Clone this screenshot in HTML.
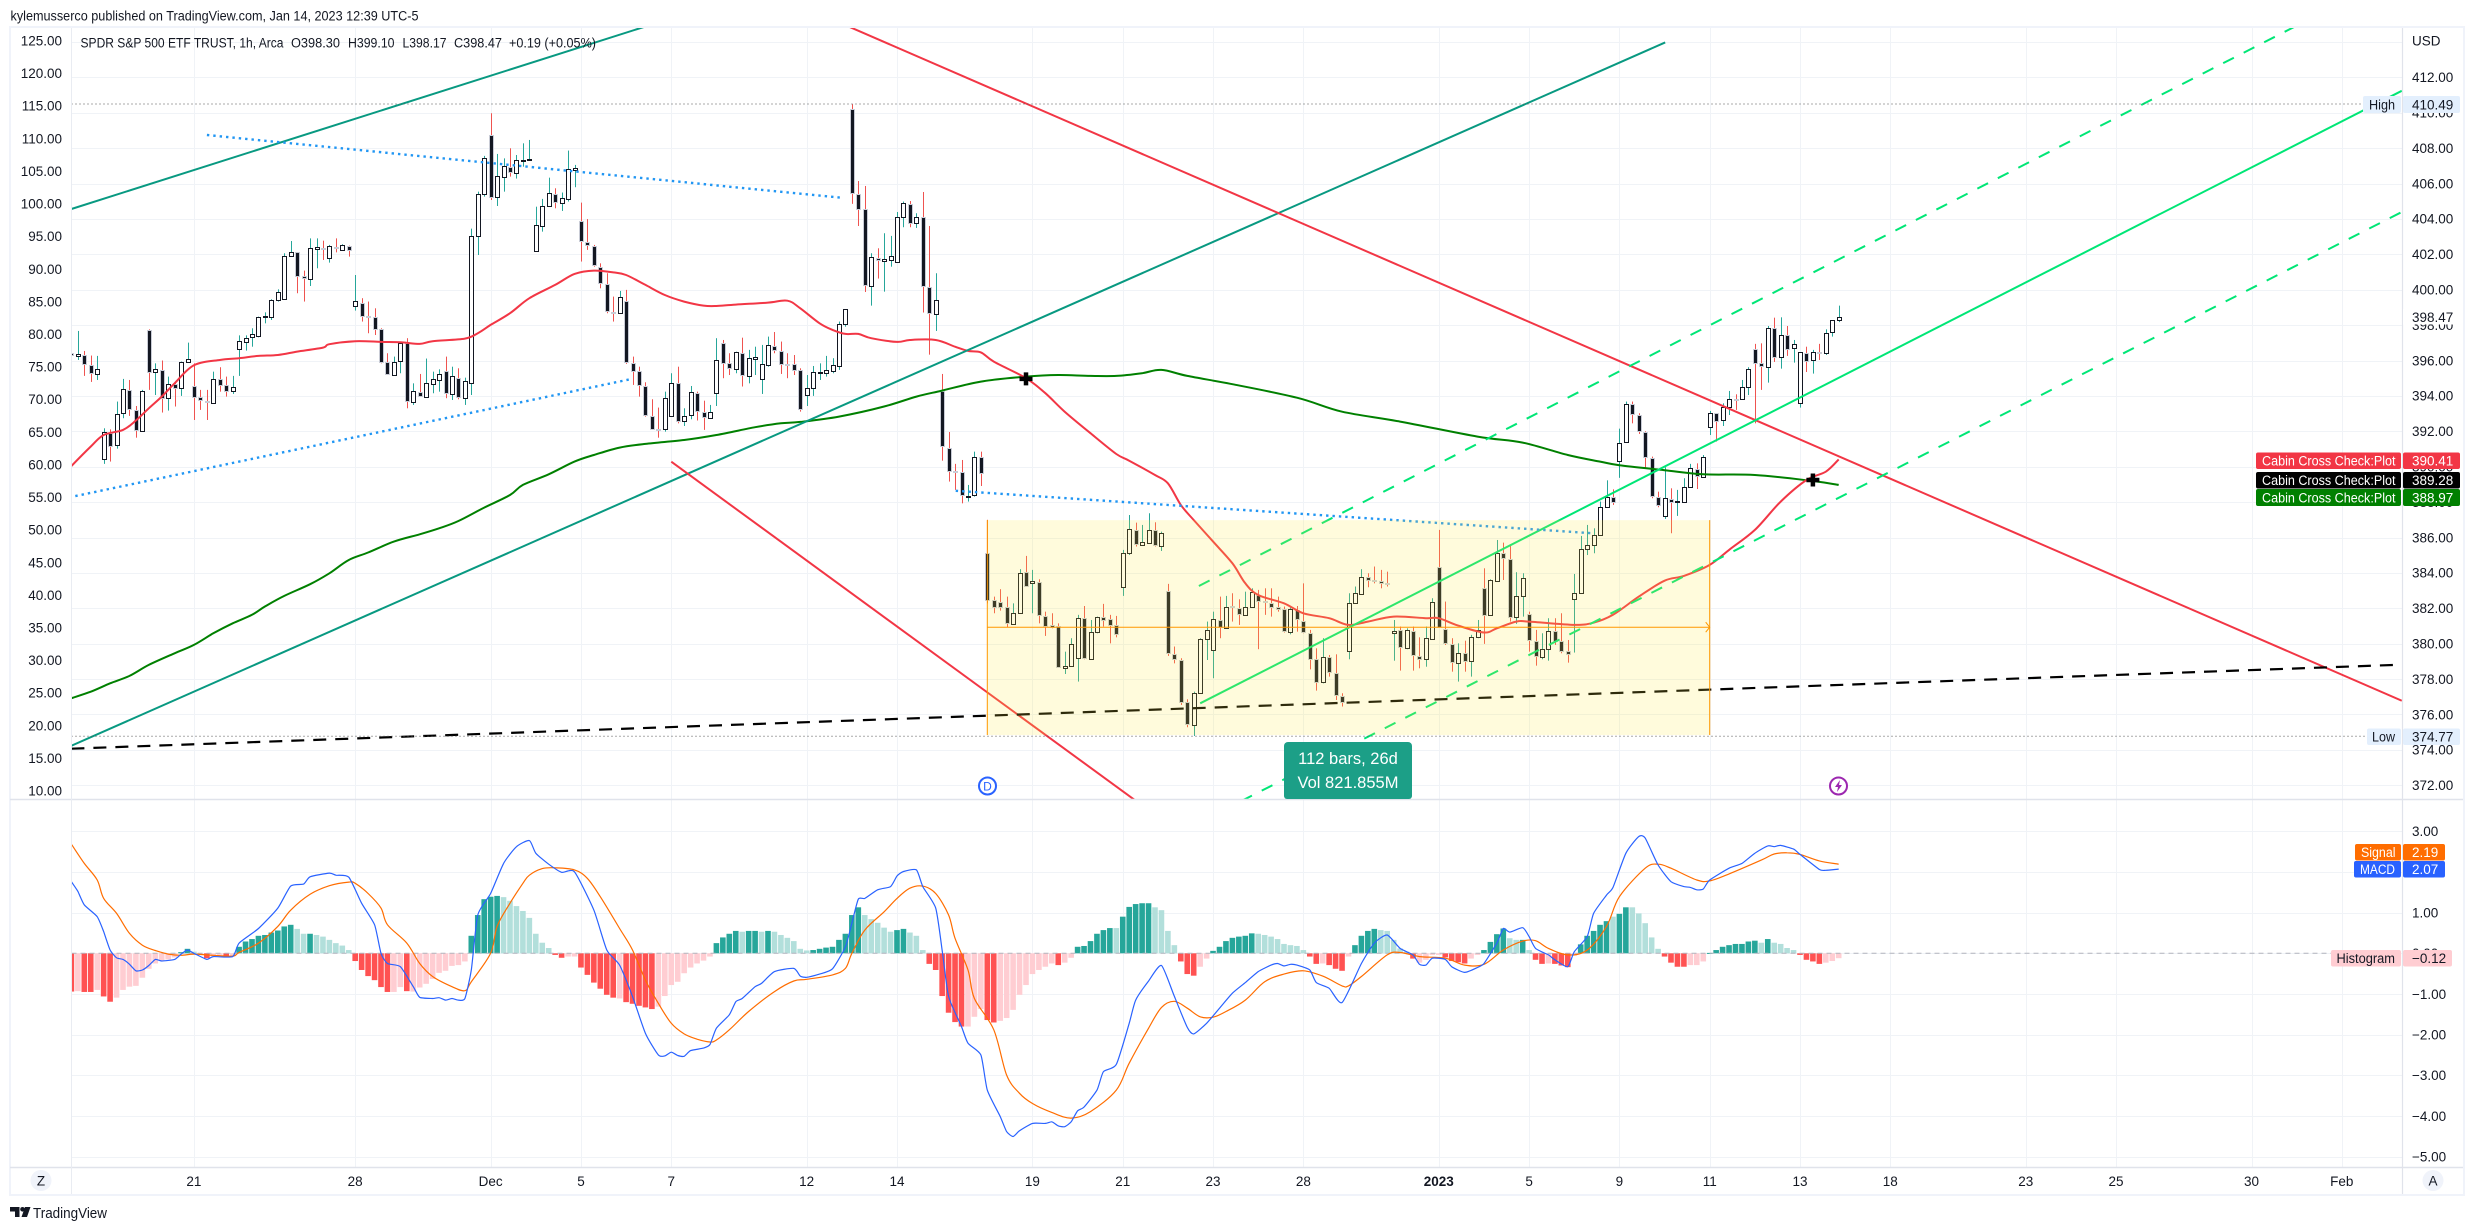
<!DOCTYPE html>
<html lang="en">
<head>
<meta charset="utf-8">
<title>SPDR S&amp;P 500 ETF TRUST chart</title>
<style>
html,body{margin:0;padding:0;background:#fff;width:2474px;height:1230px;overflow:hidden}
svg{display:block}
text{font-family:"Liberation Sans",sans-serif;font-size:13.5px;fill:#131722;white-space:pre}
</style>
</head>
<body>
<svg id="chart" xmlns="http://www.w3.org/2000/svg" width="2474" height="1230" viewBox="0 0 2474 1230">
<defs>
<clipPath id="main-clip"><rect x="71.5" y="28" width="2330.5" height="771"/></clipPath>
<clipPath id="macd-clip"><rect x="71.5" y="801" width="2330.5" height="366"/></clipPath>
</defs>
<rect x="0" y="0" width="2474" height="1230" fill="#fff"/>
<text x="10.5" y="20.5" textLength="408" lengthAdjust="spacingAndGlyphs">kylemusserco published on TradingView.com, Jan 14, 2023 12:39 UTC-5</text>
<rect x="10" y="27" width="2454" height="1168" fill="none" stroke="#f0f3fa" stroke-width="2"/>
<g id="grid"></g>
<g id="macd-layer" clip-path="url(#macd-clip)"></g>
<g id="candle-layer" clip-path="url(#main-clip)"></g>
<g id="ma-layer" clip-path="url(#main-clip)"></g>
<g id="draw-layer" clip-path="url(#main-clip)"></g>
<g id="range-layer" clip-path="url(#main-clip)"></g>
<g id="marker-layer" clip-path="url(#main-clip)"></g>
<line x1="10" y1="799.5" x2="2463" y2="799.5" stroke="#e0e3eb" stroke-width="1.5"/>
<line x1="10" y1="1167.5" x2="2463" y2="1167.5" stroke="#e0e3eb" stroke-width="1.5"/>
<line x1="71.5" y1="28" x2="71.5" y2="1194" stroke="#e9ecf2" stroke-width="1"/>
<line x1="2402.5" y1="28" x2="2402.5" y2="1194" stroke="#e0e3eb" stroke-width="1.2"/>
<g id="axis-layer"></g>
<text x="2412" y="45.5">USD</text>
<g>
<text x="80.5" y="47.5" textLength="203" lengthAdjust="spacingAndGlyphs">SPDR S&amp;P 500 ETF TRUST, 1h, Arca</text>
<text x="291" y="47.5" textLength="49" lengthAdjust="spacingAndGlyphs">O398.30</text>
<text x="348" y="47.5" textLength="46.5" lengthAdjust="spacingAndGlyphs">H399.10</text>
<text x="402.5" y="47.5" textLength="44" lengthAdjust="spacingAndGlyphs">L398.17</text>
<text x="454" y="47.5" textLength="48" lengthAdjust="spacingAndGlyphs">C398.47</text>
<text x="509" y="47.5" textLength="87" lengthAdjust="spacingAndGlyphs">+0.19 (+0.05%)</text>
</g>
<g>
<path d="M1284 746a4 4 0 0 1 4-4h120a4 4 0 0 1 4 4v50a3 3 0 0 1-3 3h-122a3 3 0 0 1-3-3z" fill="#1c9f87"/>
<text x="1348" y="764" text-anchor="middle" style="fill:#fff;font-size:16.5px">112 bars, 26d</text>
<text x="1348" y="788" text-anchor="middle" style="fill:#fff;font-size:16.5px">Vol 821.855M</text>
</g>
<g>
<rect x="2403" y="309" width="57" height="15.5" fill="#fff"/>
<text x="2412" y="322">398.47</text>
</g>
<g>
<rect x="2363" y="96" width="38" height="17" rx="2" fill="#e3effd"/>
<rect x="2403" y="96" width="57" height="17" rx="2" fill="#e3effd"/>
<text x="2369" y="109.5" textLength="26" lengthAdjust="spacingAndGlyphs">High</text>
<text x="2412" y="109.5">410.49</text>
</g>
<g>
<rect x="2367" y="728.5" width="34" height="16.5" rx="2" fill="#e3effd"/>
<rect x="2403" y="728.5" width="57" height="16.5" rx="2" fill="#e3effd"/>
<text x="2372" y="741.5" textLength="23" lengthAdjust="spacingAndGlyphs">Low</text>
<text x="2412" y="741.5">374.77</text>
</g>
<g>
<rect x="2256" y="452.5" width="145" height="16.5" rx="2" fill="#f23645"/>
<rect x="2403" y="452.5" width="57" height="16.5" rx="2" fill="#f23645"/>
<text x="2262" y="465.5" textLength="133.5" lengthAdjust="spacingAndGlyphs" style="fill:#fff">Cabin Cross Check:Plot</text>
<text x="2412" y="465.5" style="fill:#fff">390.41</text>
</g>
<g>
<rect x="2256" y="472" width="145" height="16.5" rx="2" fill="#000"/>
<rect x="2403" y="472" width="57" height="16.5" rx="2" fill="#000"/>
<text x="2262" y="485" textLength="133.5" lengthAdjust="spacingAndGlyphs" style="fill:#fff">Cabin Cross Check:Plot</text>
<text x="2412" y="485" style="fill:#fff">389.28</text>
</g>
<g>
<rect x="2256" y="489" width="145" height="17" rx="2" fill="#008000"/>
<rect x="2403" y="489" width="57" height="17" rx="2" fill="#008000"/>
<text x="2262" y="502.5" textLength="133.5" lengthAdjust="spacingAndGlyphs" style="fill:#fff">Cabin Cross Check:Plot</text>
<text x="2412" y="502.5" style="fill:#fff">388.97</text>
</g>
<g>
<rect x="2355" y="844" width="46" height="16.5" rx="2" fill="#ff6d00"/>
<rect x="2403" y="844" width="42" height="16.5" rx="2" fill="#ff6d00"/>
<text x="2361" y="857" textLength="34.5" lengthAdjust="spacingAndGlyphs" style="fill:#fff">Signal</text>
<text x="2412" y="857" style="fill:#fff">2.19</text>
</g>
<g>
<rect x="2354" y="861" width="47" height="16.5" rx="2" fill="#2962ff"/>
<rect x="2403" y="861" width="42" height="16.5" rx="2" fill="#2962ff"/>
<text x="2360" y="874" textLength="35" lengthAdjust="spacingAndGlyphs" style="fill:#fff">MACD</text>
<text x="2412" y="874" style="fill:#fff">2.07</text>
</g>
<g>
<rect x="2331" y="950" width="70" height="16.5" rx="2" fill="#ffcdd2"/>
<rect x="2403" y="950" width="49" height="16.5" rx="2" fill="#ffcdd2"/>
<text x="2336.5" y="963" textLength="58.5" lengthAdjust="spacingAndGlyphs">Histogram</text>
<text x="2412" y="963">−0.12</text>
</g>
<g>
<circle cx="987.5" cy="786" r="8.5" fill="#fff" stroke="#2962ff" stroke-width="2"/>
<text x="987.5" y="790.5" text-anchor="middle" style="fill:#2962ff;font-size:12px">D</text>
</g>
<g>
<circle cx="1838.5" cy="786" r="8.5" fill="#fff" stroke="#9c27b0" stroke-width="2"/>
<polygon points="1840,780 1835,787 1838,787 1837,792 1842,785 1839,785" fill="#9c27b0"/>
</g>
<g>
<circle cx="2433" cy="1180.5" r="10.5" fill="#f0f3fa"/>
<text x="2433" y="1185.5" text-anchor="middle">A</text>
</g>
<g>
<circle cx="41" cy="1180.5" r="10.5" fill="#f0f3fa"/>
<text x="41" y="1185.5" text-anchor="middle">Z</text>
</g>
<g>
<path d="M10 1207h9.5v10h-4.5v-5.5h-5z" fill="#131722"/>
<circle cx="22.5" cy="1209.3" r="2.3" fill="#131722"/>
<polygon points="25,1207 30.5,1207 27,1217 21.5,1217" fill="#131722"/>
<text x="33" y="1218" textLength="74" lengthAdjust="spacingAndGlyphs" style="font-size:14.5px">TradingView</text>
</g>
</svg>
<script>
/* ---------- candle data (USD) ---------- */
const opens=[396.41,396.28,396.33,395.77,395.26,390.42,391.89,391.21,393.02,394.34,393.21,392.04,397.73,395.37,395.47,393.87,394.68,394.43,395.90,394.58,393.92,393.72,393.62,394.94,394.62,394.30,396.63,397.07,397.31,397.41,398.44,398.48,399.40,399.50,401.89,402.11,400.76,400.63,402.32,402.36,401.81,402.42,402.26,402.49,399.06,399.27,398.50,398.46,397.76,395.92,395.18,395.99,396.97,393.68,394.22,393.96,394.69,394.92,395.43,394.13,395.01,393.87,394.75,403.06,405.39,408.76,405.26,406.39,406.94,406.61,407.27,407.33,402.21,403.62,404.71,405.41,404.92,405.15,406.77,403.90,402.70,402.49,401.29,400.34,398.74,398.67,399.38,395.88,395.43,394.58,392.89,392.13,392.13,392.89,394.71,392.61,392.91,394.17,393.07,392.75,394.15,396.97,395.84,395.54,396.45,395.15,396.11,394.94,395.73,396.82,396.56,395.82,395.81,395.47,394.05,394.43,395.30,395.32,395.43,395.71,398.05,410.19,405.43,404.54,400.23,401.79,401.64,401.70,401.59,404.09,404.86,403.75,404.09,400.17,398.65,394.30,391.08,389.76,389.72,388.33,388.39,390.57,385.15,382.47,382.38,382.10,381.12,381.72,384.07,383.45,383.51,381.57,381.04,381.00,378.65,378.76,379.21,381.44,379.16,380.64,381.49,381.38,381.04,383.23,385.11,386.43,385.60,385.71,386.41,385.54,383.00,379.42,379.08,376.69,375.43,377.20,380.25,379.63,381.34,380.91,382.12,382.04,381.63,382.06,382.75,382.40,382.28,382.10,381.94,380.68,381.91,381.30,380.63,379.12,377.82,379.27,378.37,377.07,379.61,382.28,382.83,383.75,383.60,383.54,383.41,380.63,380.78,379.78,380.74,379.33,379.12,380.27,384.36,380.85,379.99,378.93,379.50,379.00,380.36,383.17,381.63,383.56,385.15,384.81,381.49,382.72,381.68,380.17,379.27,379.70,380.74,380.17,379.61,382.55,382.89,385.33,385.58,386.13,387.73,388.29,390.35,391.40,393.53,392.91,391.96,390.50,388.31,387.24,388.20,388.01,388.03,388.87,389.89,389.44,392.23,393.02,392.62,393.39,393.83,393.81,394.53,396.63,395.88,395.65,397.82,396.18,397.42,396.69,393.58,396.45,396.01,396.46,396.41,397.59,398.30];
const highs=[396.60,397.67,396.54,396.28,396.26,392.17,392.11,393.68,394.96,394.90,393.43,394.34,397.76,395.84,396.00,395.09,394.81,395.94,397.01,395.84,394.34,394.34,395.37,395.62,395.09,395.13,397.42,397.42,397.82,398.48,398.72,399.46,400.02,402.06,402.75,402.11,401.08,402.90,402.90,402.77,402.53,402.90,402.57,402.49,400.83,399.52,399.33,398.95,397.82,396.41,396.22,397.07,397.26,394.71,395.24,396.11,395.37,395.50,396.22,395.65,395.56,395.03,403.45,405.54,407.56,409.97,407.67,407.42,407.99,407.61,408.27,408.46,404.69,405.13,406.33,405.73,405.49,407.86,407.05,404.92,403.99,402.53,401.49,400.93,399.61,399.93,399.99,396.22,395.65,394.77,393.81,393.34,394.24,395.28,395.65,393.30,394.56,394.24,393.73,393.49,397.26,397.16,396.41,396.50,397.29,396.60,396.78,396.88,397.35,397.61,397.07,396.41,396.31,395.56,395.18,395.69,395.84,396.26,396.13,398.20,398.89,410.48,406.14,405.86,402.06,402.34,403.19,403.04,404.39,404.98,405.01,404.32,405.52,403.60,400.93,395.24,391.96,390.16,390.38,388.97,390.85,390.85,387.00,382.66,383.08,382.66,382.28,384.21,384.96,384.17,383.64,381.81,381.72,381.15,379.55,380.31,381.63,382.13,381.34,381.53,382.25,381.63,381.57,385.30,387.27,386.84,386.71,387.37,386.86,386.33,383.38,379.84,379.18,376.86,377.29,380.31,381.25,381.81,382.66,382.70,382.85,382.51,382.94,383.13,383.04,383.13,383.13,382.66,382.10,382.10,382.13,383.41,380.78,379.74,380.31,379.36,379.40,377.20,382.85,383.23,384.21,383.98,384.36,384.17,384.07,381.34,380.97,380.87,380.97,380.36,380.97,382.57,386.43,382.38,380.31,380.02,380.17,380.50,381.34,384.26,383.64,385.86,385.71,385.58,384.04,383.98,381.81,380.78,380.59,381.44,381.44,381.72,380.21,383.94,386.09,386.71,386.52,388.03,389.23,388.72,392.15,393.68,393.68,393.02,392.00,390.57,388.59,389.97,388.78,388.69,389.35,390.16,390.19,390.66,393.15,393.02,393.58,394.28,394.09,394.90,395.62,396.94,396.97,397.95,398.42,398.44,397.95,397.16,396.46,396.78,396.60,396.94,397.76,398.27,399.10];
const lows=[396.20,396.03,395.13,394.79,394.90,390.16,390.29,391.02,392.74,392.87,391.64,391.98,394.34,394.05,393.06,393.17,393.40,394.00,395.88,392.64,393.21,392.64,393.58,394.24,393.96,394.11,395.13,396.56,396.78,397.31,398.10,398.29,399.33,399.42,401.87,399.80,399.33,400.21,401.21,401.68,401.53,402.11,402.21,401.87,398.82,398.20,397.54,397.44,395.84,395.18,395.13,395.28,393.30,393.49,393.96,393.96,394.15,394.24,393.87,393.77,393.81,393.49,394.05,401.96,405.26,405.07,404.73,405.54,406.39,406.28,406.95,407.29,402.15,403.28,404.69,404.60,404.45,404.98,405.79,401.59,402.25,401.30,400.08,398.67,398.20,398.63,395.81,394.62,393.96,392.83,392.08,391.64,391.98,392.89,392.45,392.30,392.68,392.61,392.08,392.74,393.43,395.00,395.18,395.28,394.53,394.71,395.18,394.11,395.65,396.41,395.24,395.00,395.18,393.11,393.43,394.00,394.90,395.09,395.28,395.47,397.91,404.85,403.60,399.87,399.10,400.63,399.89,401.30,401.59,403.53,403.53,403.49,398.71,396.33,397.67,390.34,389.16,388.69,387.93,388.03,388.31,388.91,382.28,381.72,381.87,380.93,381.12,381.68,383.23,381.72,381.15,380.44,380.87,378.63,378.29,378.70,377.86,379.12,379.08,380.59,380.97,380.02,380.36,382.70,385.01,385.49,385.58,385.67,385.49,385.24,379.31,378.89,376.54,375.28,374.79,377.16,379.08,378.05,380.31,380.87,381.25,381.06,381.63,382.04,379.69,381.63,381.53,381.81,380.63,380.53,380.68,380.59,378.55,377.35,377.76,378.14,376.82,376.45,379.12,382.25,382.79,383.19,383.41,383.13,383.23,379.04,378.48,379.69,378.48,378.61,378.70,380.21,380.93,379.93,378.42,377.86,378.42,378.14,380.31,379.99,381.59,383.51,383.60,381.25,381.12,381.53,379.55,378.76,379.12,379.04,379.93,379.46,378.93,379.50,382.85,385.01,385.11,386.13,387.69,387.84,389.37,391.34,392.45,391.85,389.89,388.22,387.71,387.05,386.24,387.22,387.97,388.84,388.74,389.40,391.79,391.42,392.30,392.92,393.21,393.81,394.05,392.45,394.34,394.75,395.92,395.54,396.26,395.88,393.34,395.35,395.26,396.03,396.31,397.35,398.17];
const closes=[396.33,396.37,395.81,395.30,395.50,391.95,391.19,392.96,394.37,393.24,392.08,394.26,395.37,395.50,393.87,394.66,394.43,395.90,396.07,393.92,393.79,393.64,394.94,394.62,394.30,394.53,397.09,397.29,397.48,398.44,398.50,399.40,399.85,401.89,402.11,400.76,400.66,402.34,402.40,402.32,402.45,402.34,402.51,402.23,399.35,398.50,398.46,397.76,395.94,395.22,395.90,396.97,393.72,394.26,394.00,394.71,394.94,395.22,394.15,395.11,393.94,394.83,403.02,405.39,407.42,405.24,406.41,406.97,406.65,407.31,407.33,407.37,403.64,404.71,405.45,404.94,405.17,406.80,406.86,402.75,402.51,401.38,400.36,398.82,398.67,399.57,395.90,395.43,394.62,392.92,392.11,392.10,393.87,394.71,392.61,392.89,394.20,393.13,392.79,393.11,396.03,395.84,395.56,396.46,395.16,396.13,396.18,395.81,396.90,396.60,395.81,395.73,395.47,393.24,394.43,395.33,395.37,395.47,395.73,398.05,398.89,405.45,404.54,400.25,401.83,401.68,401.72,401.93,404.09,404.88,403.77,404.09,400.21,398.67,399.40,391.17,389.76,389.72,388.40,388.37,390.57,389.67,382.47,382.10,382.10,381.16,381.72,384.02,383.28,383.55,381.63,381.00,380.97,378.67,378.76,379.97,381.44,379.21,380.64,381.49,381.34,381.06,380.53,385.11,386.46,385.64,385.73,386.41,385.58,386.28,379.46,379.14,376.71,375.45,377.20,380.25,380.76,381.38,380.95,382.10,382.08,381.68,382.06,382.90,382.44,382.36,382.06,381.94,380.72,381.96,381.38,380.65,379.12,377.82,379.27,378.40,377.11,376.69,382.28,382.85,383.75,383.60,383.56,383.43,383.38,380.74,379.84,380.78,379.37,379.12,380.31,382.38,380.97,380.02,378.95,379.50,379.00,380.36,380.78,381.63,383.60,385.15,384.83,381.49,382.72,383.70,380.21,379.31,379.72,380.74,380.17,379.61,379.42,382.89,385.33,385.56,386.14,387.71,388.31,388.03,391.34,393.53,392.96,392.00,390.55,388.33,387.84,388.22,388.01,388.05,388.87,389.91,389.48,390.57,393.02,392.57,393.39,393.81,393.79,394.53,395.50,395.88,395.69,397.82,396.18,397.42,396.63,396.92,396.46,395.96,396.46,396.43,397.54,398.27,398.47];

/* ---------- moving averages (bar index + USD) ---------- */
const redMaBars=[0,3,5,8,10,12,14,16,19,23,26,29,32,35,39,40,44,48,51,54,56,61,63,65,68,71,75,78,81,84,86,89,92,95,98,100,103,108,111,113,116,118,120,122,124,128,130,134,137,139,141,143,148,151,154,158,162,164,168,170,172,174,177,180,182,184,188,191,195,198,201,205,210,212,215,219,221,224,226,233,236,239,243,247,250,254,257,261,265,269,272,274];
const redMaValues=[390.04,391.14,391.79,392.08,392.61,393.30,393.96,394.71,395.73,396.03,396.13,396.26,396.31,396.50,396.73,396.92,397.09,397.05,397.03,396.94,397.09,397.24,397.54,398.01,398.67,399.52,400.27,400.89,401.08,400.98,400.83,400.27,399.70,399.33,399.10,399.08,399.16,399.27,399.38,398.95,398.10,397.73,397.50,397.50,397.26,397.05,397.16,397.16,396.78,396.54,396.46,395.94,395.00,394.15,393.11,391.89,390.72,390.34,389.53,389.06,387.84,386.99,385.77,384.54,383.41,382.75,382.28,381.72,381.44,381.06,381.25,381.53,381.44,381.44,381.02,380.63,380.87,381.25,381.25,381.06,381.19,381.63,382.66,383.56,383.83,384.45,385.30,386.43,388.03,389.25,389.72,390.41];
const greenMaBars=[0,3,6,9,12,16,19,22,25,28,30,33,37,40,43,46,50,54,57,60,64,68,70,74,78,81,85,89,95,100,106,110,113,119,126,131,135,141,148,153,158,162,166,169,173,180,190,197,206,218,225,232,237,240,247,253,261,270,274];
const greenMaValues=[376.92,377.29,377.76,378.18,378.80,379.46,379.93,380.59,381.15,381.63,382.10,382.70,383.36,383.98,384.73,385.15,385.77,386.18,386.52,386.93,387.69,388.40,388.97,389.57,390.29,390.66,391.08,391.29,391.51,391.79,392.23,392.45,392.53,392.83,393.40,393.96,394.30,394.81,395.09,395.18,395.13,395.13,395.28,395.47,395.13,394.66,393.90,393.11,392.55,391.70,391.36,390.66,390.29,390.08,389.80,389.57,389.53,389.19,388.97];

/* ---------- MACD pane ---------- */
const macdBars=[0,1,2,4,5,6,7,8,9,10,11,12,13,14,16,17,18,19,21,22,25,26,29,32,34,36,37,40,41,43,45,47,48,49,51,53,54,56,57,58,59,60,61,62,63,65,67,69,71,72,74,76,78,81,83,85,87,89,91,92,93,94,95,96,98,99,100,102,103,104,106,107,109,112,113,114,116,118,120,121,122,123,125,127,128,129,131,132,134,135,136,138,139,141,142,144,145,146,147,149,151,152,153,154,155,156,157,159,160,162,164,165,167,169,171,173,174,176,178,180,182,184,186,187,188,189,190,192,193,195,197,200,202,204,206,208,209,210,211,213,214,216,218,219,221,222,223,225,226,227,229,230,232,233,235,236,238,239,241,243,244,246,248,250,251,252,253,254,257,259,261,263,264,265,267,268,271,272,274];
const macdValues=[1.76,1.52,1.19,0.90,0.53,0.08,-0.11,-0.15,-0.27,-0.43,-0.41,-0.30,-0.15,-0.19,-0.15,-0.02,0.08,0.00,-0.15,-0.08,-0.08,0.25,0.61,1.11,1.65,1.70,1.88,1.97,1.92,1.87,1.23,0.70,0.00,-0.25,-0.33,-0.82,-1.08,-1.11,-1.09,-1.15,-1.11,-1.15,-1.11,-0.41,0.94,1.47,2.21,2.62,2.77,2.46,2.19,1.99,2.00,1.06,0.08,-0.29,-1.06,-1.97,-2.50,-2.52,-2.43,-2.51,-2.53,-2.39,-2.33,-2.24,-1.84,-1.51,-1.19,-1.11,-0.82,-0.74,-0.45,-0.37,-0.56,-0.59,-0.51,-0.38,0.16,0.74,1.33,1.35,1.56,1.64,1.90,2.01,2.05,1.64,1.11,0.08,-1.06,-1.80,-2.21,-2.50,-3.36,-4.01,-4.38,-4.50,-4.36,-4.18,-4.18,-4.14,-4.24,-4.26,-4.14,-3.87,-3.78,-3.36,-2.91,-2.73,-1.72,-1.15,-0.68,-0.30,-1.06,-1.82,-1.98,-1.72,-1.35,-0.98,-0.72,-0.45,-0.29,-0.25,-0.31,-0.27,-0.29,-0.41,-0.72,-0.86,-1.21,-0.25,0.25,0.45,0.12,-0.04,-0.27,-0.29,-0.12,-0.15,-0.33,-0.47,-0.35,-0.25,0.25,0.61,0.52,0.63,0.41,0.12,-0.04,-0.16,-0.33,0.04,0.41,0.98,1.43,1.62,2.46,2.87,2.83,2.17,1.76,1.64,1.62,1.56,1.58,1.80,2.09,2.21,2.46,2.64,2.62,2.65,2.56,2.43,2.06,2.04,2.07];
const signalBars=[0,2,4,5,7,9,11,13,15,17,19,22,25,26,29,32,34,37,40,43,44,46,48,49,52,54,56,59,61,62,65,66,68,70,71,73,75,78,80,82,85,87,89,91,93,95,97,99,100,102,105,109,112,114,118,120,121,123,126,128,130,132,134,136,137,139,140,143,145,147,149,152,155,158,162,164,167,169,171,173,175,177,179,182,185,188,191,194,197,198,200,204,206,209,213,216,219,222,225,227,229,232,235,238,240,244,246,248,252,254,257,262,264,266,268,271,274];
const signalValues=[2.68,2.21,1.80,1.35,0.98,0.49,0.20,0.07,-0.02,-0.05,-0.02,-0.05,-0.07,0.02,0.25,0.66,1.06,1.45,1.66,1.75,1.72,1.47,1.11,0.70,0.25,-0.25,-0.57,-0.82,-0.92,-0.70,0.00,0.66,1.23,1.72,1.92,2.08,2.10,2.05,1.84,1.39,0.61,0.08,-0.66,-1.23,-1.72,-1.98,-2.11,-2.18,-2.13,-1.88,-1.43,-0.94,-0.68,-0.64,-0.53,-0.37,0.00,0.57,1.02,1.35,1.60,1.65,1.47,0.94,0.37,-0.41,-1.11,-1.88,-2.99,-3.44,-3.69,-3.91,-4.05,-3.89,-3.36,-2.70,-1.84,-1.33,-1.18,-1.35,-1.56,-1.57,-1.43,-1.15,-0.70,-0.51,-0.43,-0.56,-0.80,-0.80,-0.57,-0.04,0.02,-0.08,-0.12,-0.29,-0.27,0.08,0.30,0.31,0.12,-0.04,0.08,0.66,1.39,2.09,2.19,2.09,1.80,1.78,1.95,2.29,2.44,2.47,2.43,2.27,2.19];
const histValues=[-0.94,-0.93,-0.95,-0.95,-0.90,-1.06,-1.19,-1.09,-0.90,-0.82,-0.80,-0.60,-0.38,-0.25,-0.19,-0.15,-0.10,0.03,0.11,0.04,-0.02,-0.12,-0.07,-0.04,-0.07,-0.08,0.16,0.29,0.35,0.43,0.45,0.51,0.56,0.66,0.70,0.60,0.48,0.48,0.45,0.41,0.33,0.25,0.19,0.08,-0.19,-0.41,-0.56,-0.66,-0.83,-0.95,-0.95,-0.83,-0.93,-0.94,-0.84,-0.75,-0.63,-0.48,-0.43,-0.31,-0.29,-0.20,0.43,0.94,1.33,1.39,1.41,1.38,1.29,1.16,1.04,0.87,0.48,0.26,0.13,-0.04,-0.11,-0.08,-0.08,-0.35,-0.53,-0.72,-0.87,-1.02,-1.09,-1.11,-1.20,-1.24,-1.29,-1.33,-1.37,-1.31,-1.05,-0.78,-0.70,-0.49,-0.35,-0.25,-0.18,-0.08,0.25,0.39,0.48,0.55,0.53,0.55,0.55,0.53,0.55,0.53,0.45,0.38,0.30,0.11,0.07,0.08,0.11,0.14,0.16,0.33,0.48,0.94,1.13,0.94,0.84,0.75,0.63,0.53,0.57,0.60,0.51,0.43,0.08,-0.26,-0.41,-1.05,-1.46,-1.69,-1.80,-1.80,-1.56,-1.37,-1.64,-1.70,-1.66,-1.59,-1.39,-1.02,-0.78,-0.51,-0.41,-0.33,-0.25,-0.29,-0.23,-0.11,0.16,0.18,0.30,0.48,0.57,0.62,0.62,0.90,1.14,1.21,1.23,1.23,1.13,1.06,0.55,0.20,-0.20,-0.51,-0.55,-0.33,-0.13,0.06,0.16,0.30,0.38,0.41,0.43,0.49,0.48,0.45,0.41,0.35,0.23,0.20,0.18,0.08,-0.08,-0.26,-0.25,-0.29,-0.38,-0.43,-0.08,0.20,0.43,0.55,0.60,0.57,0.55,0.33,0.12,0.04,-0.13,-0.23,-0.16,-0.04,-0.04,-0.10,-0.19,-0.22,-0.25,-0.13,-0.04,0.08,0.28,0.47,0.61,0.37,0.33,0.33,0.08,-0.16,-0.26,-0.25,-0.26,-0.30,-0.34,-0.06,0.22,0.43,0.55,0.70,0.79,0.90,0.97,1.13,1.13,0.98,0.74,0.39,0.11,-0.08,-0.23,-0.33,-0.33,-0.29,-0.29,-0.20,0.01,0.08,0.16,0.20,0.23,0.23,0.29,0.31,0.26,0.35,0.26,0.23,0.13,0.08,-0.04,-0.16,-0.20,-0.26,-0.23,-0.19,-0.12];
const histShades="RPRRPRRPPPPPPPPPPTTLPRPPRPTTTTTTTTTLLTLLLLLLRRRRRRPPRPPPPPPPPPTTTTTLLLLLLLLRRPPRRRRRRPRRRRRPPPPPPPPPTTTTLTTLTLLLLLLTTTTTTTTLLLLLTTLLLRRRRRRPPPRRPPPPPPPPPRPPTTTTTTLTTTTTLLLLRRRPPTTTTTTTLLLLLLLLRRPRRRPTTTTLLLLLRPPPPRRRRPPTTTTLLTLRRPRRRPTTTTTLTTLLLLLRRRRPPPTTTTTTTTLTLLLLRRRRPPP";

/* ---------- axis ticks ---------- */
const priceTicks=[412,410,408,406,404,402,400,398,396,394,392,390,388,386,384,382,380,378,376,374,372];
const priceTickLabels=["412.00","410.00","408.00","406.00","404.00","402.00","400.00","398.00","396.00","394.00","392.00","390.00","388.00","386.00","384.00","382.00","380.00","378.00","376.00","374.00","372.00"];
const topGridPrice=[414];
const leftTicks=[125,120,115,110,105,100,95,90,85,80,75,70,65,60,55,50,45,40,35,30,25,20,15,10];
const leftTickLabels=["125.00","120.00","115.00","110.00","105.00","100.00","95.00","90.00","85.00","80.00","75.00","70.00","65.00","60.00","55.00","50.00","45.00","40.00","35.00","30.00","25.00","20.00","15.00","10.00"];
const macdTicks=[3,2,1,0,-1,-2,-3,-4,-5];
const macdTickLabels=["3.00","2.00","1.00","0.00","−1.00","−2.00","−3.00","−4.00","−5.00"];
const timeBars=[19,44,65,79,93,114,128,149,163,177,191,212,226,240,254,268,282,303,317,338,352];
const timeLabels=["21","28","Dec","5","7","12","14","19","21","23","28","2023","5","9","11","13","18","23","25","30","Feb"];

/* ---------- drawings in bar / USD coordinates ---------- */
const tealUpperBars=[0,88.9];
const tealUpperPrices=[404.56,414.86];
const tealLowerBars=[0,247.1];
const tealLowerPrices=[374.24,413.97];
const redUpperBars=[120.56,361.3];
const redUpperPrices=[414.86,376.78];
const redLowerBars=[93,167.2];
const redLowerPrices=[390.28,370.55];
const channelMidBars=[175,361.3];
const channelMidPrices=[376.63,411.24];
const channelTopBars=[174.8,344.9];
const channelTopPrices=[383.26,414.9];
const channelBottomBars=[175,361.3];
const channelBottomPrices=[369.93,404.39];
const supportBars=[0,360.2];
const supportPrices=[374.07,378.8];
const dottedABars=[21,119.3];
const dottedAPrices=[408.74,405.2];
const dottedBBars=[0.6,86.6];
const dottedBPrices=[388.34,394.94];
const dottedCBars=[137.1,235.9];
const dottedCPrices=[388.64,386.24];
const rangeBars=[142,254];
const rangePrices=[386.98,374.84];
const rangeMidPrice=[380.93];
const highPrice=[410.49];
const lowPrice=[374.77];
const markerBars=[148,270];
const markerPrices=[394.96,389.25];

/* ---------- axis functions ---------- */
function xBar(b){return 71.4+b*6.45;}
function yPrice(p){return 77.3+(412-p)*17.7;}
function yLeft(v){return 40.7+(125-v)*6.522;}
function yMacd(v){return 953.3-v*40.7;}

const NS="http://www.w3.org/2000/svg";
function mk(parent,tag,attrs,text){
  const el=document.createElementNS(NS,tag);
  for(const k in attrs){el.setAttribute(k,attrs[k]);}
  if(text!==undefined){el.textContent=text;}
  parent.appendChild(el);
  return el;
}
const grid=document.getElementById('grid');
const axisLayer=document.getElementById('axis-layer');
const macdLayer=document.getElementById('macd-layer');
const candleLayer=document.getElementById('candle-layer');
const maLayer=document.getElementById('ma-layer');
const drawLayer=document.getElementById('draw-layer');
const rangeLayer=document.getElementById('range-layer');
const markerLayer=document.getElementById('marker-layer');
const gridColor='#f0f3f7';

/* gridlines */
topGridPrice.concat(priceTicks).forEach(function(p){
  const y=Math.round(yPrice(p))+0.5;
  const l=mk(grid,'line',{x1:71.5,x2:2402,y1:y,y2:y,stroke:gridColor,'stroke-width':1});
  
  
});
macdTicks.forEach(function(v){
  const y=Math.round(yMacd(v))+0.5;
  const l=mk(grid,'line',{x1:71.5,x2:2402,y1:y,y2:y,stroke:gridColor,'stroke-width':1});
  
  
});
timeBars.forEach(function(b,i){
  const x=Math.round(xBar(b))+0.5;
  const l=mk(grid,'line',{x1:x,x2:x,y1:28,y2:1167,stroke:gridColor,'stroke-width':1});
  
  
  const t=mk(axisLayer,'text',{x:xBar(b),y:1186,'text-anchor':'middle'},timeLabels[i]);
  
  
  if(timeLabels[i]==='2023'){t.style.fontWeight='bold';}
});

/* axis labels */
priceTicks.forEach(function(p,i){
  const t=mk(axisLayer,'text',{x:2412,y:yPrice(p)+4.8},priceTickLabels[i]);
  
  
});
leftTicks.forEach(function(v,i){
  const t=mk(axisLayer,'text',{x:62,y:yLeft(v)+4.8,'text-anchor':'end'},leftTickLabels[i]);
  
  
});
macdTicks.forEach(function(v,i){
  const t=mk(axisLayer,'text',{x:2412,y:yMacd(v)+4.8},macdTickLabels[i]);
  
  
});

/* histogram */
const shadeColors={R:'#ff5252',P:'#ffcdd2',T:'#26a69a',L:'#b2dfdb'};
histValues.forEach(function(v,i){
  const y0=yMacd(0),y1=yMacd(v);
  const r=mk(macdLayer,'rect',{x:xBar(i)-2.8,y:Math.min(y0,y1),width:5.6,height:Math.max(1,Math.abs(y1-y0)),fill:shadeColors[histShades[i]]});
  
  
});
const zeroLine=mk(macdLayer,'line',{x1:71.5,x2:2331,y1:yMacd(0),y2:yMacd(0),stroke:'#b2b5be','stroke-width':1,'stroke-dasharray':'5 4'});



function linePath(bars,vals,yFn){
  return bars.map(function(b,i){return (i?'L':'M')+xBar(b).toFixed(1)+' '+yFn(vals[i]).toFixed(1);}).join('');
}
/* curve through every read point (Catmull-Rom), for the smooth indicator lines */
function curvePath(bars,vals,yFn,k){
  const pts=bars.map(function(b,i){return [xBar(b),yFn(vals[i])];});
  let d='M'+pts[0][0].toFixed(1)+' '+pts[0][1].toFixed(1);
  for(let i=0;i<pts.length-1;i++){
    const p0=pts[Math.max(0,i-1)],p1=pts[i],p2=pts[i+1],p3=pts[Math.min(pts.length-1,i+2)];
    d+='C'+(p1[0]+(p2[0]-p0[0])*k).toFixed(1)+' '+(p1[1]+(p2[1]-p0[1])*k).toFixed(1)+' '+(p2[0]-(p3[0]-p1[0])*k).toFixed(1)+' '+(p2[1]-(p3[1]-p1[1])*k).toFixed(1)+' '+p2[0].toFixed(1)+' '+p2[1].toFixed(1);
  }
  return d;
}
const signalLine=mk(macdLayer,'path',{d:curvePath(signalBars,signalValues,yMacd,1/6),fill:'none',stroke:'#ff6d00','stroke-width':1.2,'stroke-linejoin':'round'});


const macdLine=mk(macdLayer,'path',{d:curvePath(macdBars,macdValues,yMacd,1/10),fill:'none',stroke:'#2962ff','stroke-width':1.2,'stroke-linejoin':'round'});



/* candles */
opens.forEach(function(o,i){
  const c=closes[i],up=c>=o;
  const rx=Math.round(xBar(i));
  const wick=mk(candleLayer,'rect',{x:rx,y:yPrice(highs[i]),width:1,height:yPrice(lows[i])-yPrice(highs[i]),fill:up?'#26a69a':'#ef5350'});
  
  
  const top=Math.round(yPrice(Math.max(o,c))),bot=Math.round(yPrice(Math.min(o,c)));
  const body=mk(candleLayer,'rect',{x:rx-1.5,y:top+0.5,width:4,height:Math.max(1,bot-top),fill:up?'#ffffff':'#131722',stroke:up?'#131722':'#c9ccd6','stroke-width':1});
  
  
});

/* moving averages */
const greenMa=mk(maLayer,'path',{d:curvePath(greenMaBars,greenMaValues,yPrice,1/6),fill:'none',stroke:'#008000','stroke-width':2,'stroke-linejoin':'round'});


const redMa=mk(maLayer,'path',{d:curvePath(redMaBars,redMaValues,yPrice,1/6),fill:'none',stroke:'#f23645','stroke-width':2,'stroke-linejoin':'round'});



/* trend lines */
const tealUpper=mk(drawLayer,'path',{d:linePath(tealUpperBars,tealUpperPrices,yPrice),fill:'none',stroke:'#089981','stroke-width':2});


const tealLower=mk(drawLayer,'path',{d:linePath(tealLowerBars,tealLowerPrices,yPrice),fill:'none',stroke:'#089981','stroke-width':2});


const redUpper=mk(drawLayer,'path',{d:linePath(redUpperBars,redUpperPrices,yPrice),fill:'none',stroke:'#f23645','stroke-width':2});


const redLower=mk(drawLayer,'path',{d:linePath(redLowerBars,redLowerPrices,yPrice),fill:'none',stroke:'#f23645','stroke-width':2});


const channelMid=mk(drawLayer,'path',{d:linePath(channelMidBars,channelMidPrices,yPrice),fill:'none',stroke:'#00e676','stroke-width':2});


const channelTop=mk(drawLayer,'path',{d:linePath(channelTopBars,channelTopPrices,yPrice),fill:'none',stroke:'#00e676','stroke-width':2,'stroke-dasharray':'12 11'});


const channelBottom=mk(drawLayer,'path',{d:linePath(channelBottomBars,channelBottomPrices,yPrice),fill:'none',stroke:'#00e676','stroke-width':2,'stroke-dasharray':'12 11'});


const supportLine=mk(drawLayer,'path',{d:linePath(supportBars,supportPrices,yPrice),fill:'none',stroke:'#000','stroke-width':2.2,'stroke-dasharray':'13 9'});


const dottedA=mk(drawLayer,'path',{d:linePath(dottedABars,dottedAPrices,yPrice),fill:'none',stroke:'#2196f3','stroke-width':2.4,'stroke-dasharray':'2.4 4'});


const dottedB=mk(drawLayer,'path',{d:linePath(dottedBBars,dottedBPrices,yPrice),fill:'none',stroke:'#2196f3','stroke-width':2.4,'stroke-dasharray':'2.4 4'});


const dottedC=mk(drawLayer,'path',{d:linePath(dottedCBars,dottedCPrices,yPrice),fill:'none',stroke:'#2196f3','stroke-width':2.4,'stroke-dasharray':'2.4 4'});



/* high / low dotted lines */
const highLine=mk(drawLayer,'line',{x1:71.5,x2:2363,y1:yPrice(highPrice[0]),y2:yPrice(highPrice[0]),stroke:'#555','stroke-width':1,'stroke-dasharray':'1 3'});


const lowLine=mk(drawLayer,'line',{x1:71.5,x2:2367,y1:yPrice(lowPrice[0]),y2:yPrice(lowPrice[0]),stroke:'#555','stroke-width':1,'stroke-dasharray':'1 3'});



/* date & price range overlay */
const rx0=xBar(rangeBars[0]),rx1=xBar(rangeBars[1]);
const ry0=yPrice(rangePrices[0]),ry1=yPrice(rangePrices[1]);
const rangeBox=mk(rangeLayer,'rect',{x:rx0,y:ry0,width:rx1-rx0,height:ry1-ry0,fill:'rgba(255,235,59,0.18)'});


const rangeLeft=mk(rangeLayer,'line',{x1:rx0,x2:rx0,y1:ry0,y2:ry1,stroke:'#ff9800','stroke-width':1});


const rangeRight=mk(rangeLayer,'line',{x1:rx1,x2:rx1,y1:ry0,y2:ry1,stroke:'#ff9800','stroke-width':1});


const rm=yPrice(rangeMidPrice[0]);
const rangeMid=mk(rangeLayer,'line',{x1:rx0,x2:rx1,y1:rm,y2:rm,stroke:'#ff9800','stroke-width':1});


const rangeHead=mk(rangeLayer,'path',{d:'M'+(rx1-4)+' '+(rm-5)+'L'+rx1+' '+rm+'L'+(rx1-4)+' '+(rm+5),fill:'none',stroke:'#ff9800','stroke-width':1});



/* cross markers */
markerBars.forEach(function(b,i){
  const cx=xBar(b),cy=yPrice(markerPrices[i]);
  const m=mk(markerLayer,'path',{d:'M'+(cx-6.5)+' '+cy+'H'+(cx+6.5)+'M'+cx+' '+(cy-6.5)+'V'+(cy+6.5),fill:'none',stroke:'#000','stroke-width':4.5});
  
  
});
</script>
</body>
</html>
